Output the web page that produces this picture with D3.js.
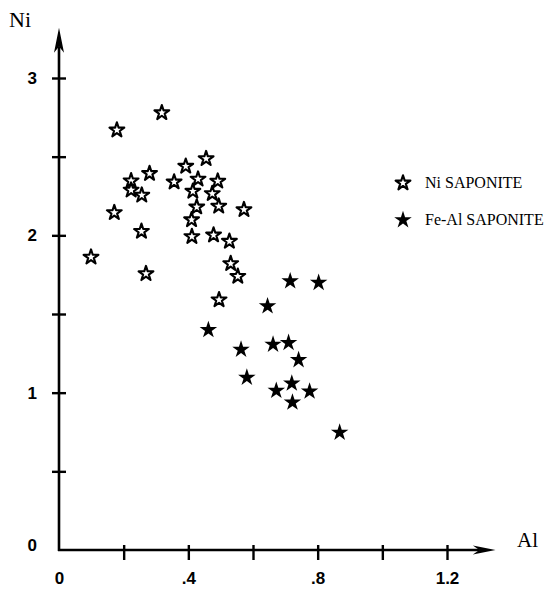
<!DOCTYPE html>
<html lang="en">

<head>
  <meta charset="UTF-8">
  <title>Ni vs Al saponite</title>
  <script src="https://d3js.org/d3.v7.min.js"></script>
  <style>
    html,
    body {
      padding: 0;
      margin: 0;
      background: #fff;
    }

    .tick text,
    .lbl {
      font-family: "Liberation Sans", Arial, sans-serif;
      font-weight: bold;
      font-size: 17px;
      fill: #000;
    }

    .title {
      font-family: "Liberation Serif", "Times New Roman", serif;
      fill: #000;
    }
  </style>
</head>

<body>
  <script>
    // Ni saponite (open stars)
    const niAl = [0.318, 0.179, 0.455, 0.392, 0.280, 0.223, 0.356, 0.430, 0.491, 0.223, 0.256, 0.414, 0.474, 0.426,
      0.494, 0.572, 0.171, 0.410, 0.255, 0.411, 0.478, 0.527, 0.099, 0.531, 0.553, 0.269, 0.495];
    const niNi = [2.779, 2.669, 2.487, 2.439, 2.393, 2.346, 2.339, 2.357, 2.344, 2.287, 2.255, 2.280, 2.265, 2.180,
      2.185, 2.163, 2.144, 2.099, 2.025, 1.992, 2.002, 1.962, 1.861, 1.820, 1.739, 1.756, 1.590];

    // Fe-Al saponite (filled stars)
    const feAl = [0.715, 0.803, 0.645, 0.462, 0.563, 0.662, 0.710, 0.741, 0.581, 0.672, 0.720, 0.775, 0.722, 0.868];
    const feNi = [1.709, 1.699, 1.550, 1.399, 1.274, 1.306, 1.317, 1.208, 1.096, 1.013, 1.059, 1.008, 0.938, 0.747];

    const xTicks = [0.2, 0.4, 0.6, 0.8, 1.0, 1.2];
    const xLabels = [0, 0.4, 0.8, 1.2];
    const yTicks = [0.5, 1, 1.5, 2, 2.5, 3];
    const yLabels = [1, 2, 3];
    const seriesNames = ["Ni SAPONITE", "Fe-Al SAPONITE"];

    const width = 552;
    const height = 593;

    const x = d3.scaleLinear().domain([0, 1.2]).range([59, 447]);
    const y = d3.scaleLinear().domain([0, 3]).range([550, 78]);

    const fmt = d => d === 0 ? "0" : (d < 1 ? String(d).replace(/^0/, "") : String(d));

    const svg = d3.select("body").append("svg")
      .attr("width", width)
      .attr("height", height);

    // axis lines with arrows
    const y0 = y(0), x0 = x(0);
    svg.append("line")
      .attr("x1", x0 - 1).attr("x2", x(1.3))
      .attr("y1", y0).attr("y2", y0)
      .attr("stroke", "#000").attr("stroke-width", 2.6);
    svg.append("path")
      .attr("d", `M${x(1.35)},${y0} L${x(1.28)},${y0 - 4.5} L${x(1.3)},${y0} L${x(1.28)},${y0 + 4.5} Z`)
      .attr("fill", "#000");

    svg.append("line")
      .attr("x1", x0).attr("x2", x0)
      .attr("y1", y0 + 1).attr("y2", y(3.2))
      .attr("stroke", "#000").attr("stroke-width", 2.6);
    svg.append("path")
      .attr("d", `M${x0},${y(3.32)} L${x0 - 5},${y(3.16)} L${x0},${y(3.2)} L${x0 + 5},${y(3.16)} Z`)
      .attr("fill", "#000");

    // tick marks (crossing the axes)
    const gxt = svg.append("g")
      .attr("transform", `translate(0,${y0})`)
      .call(d3.axisBottom(x).tickValues(xTicks).tickSizeOuter(0).tickSizeInner(10).tickFormat(""));
    gxt.select(".domain").remove();
    gxt.selectAll(".tick line").attr("y1", -5).attr("stroke", "#000").attr("stroke-width", 2.4);

    const gyt = svg.append("g")
      .attr("transform", `translate(${x0},0)`)
      .call(d3.axisLeft(y).tickValues(yTicks).tickSizeOuter(0).tickSizeInner(7).tickFormat(""));
    gyt.select(".domain").remove();
    gyt.selectAll(".tick line").attr("x2", -7).attr("x1", 7).attr("stroke", "#000").attr("stroke-width", 2.4);

    // tick labels
    const gxl = svg.append("g")
      .attr("transform", `translate(0,${y0})`)
      .call(d3.axisBottom(x).tickValues(xLabels).tickSize(0).tickPadding(34).tickFormat(fmt));
    gxl.select(".domain").remove();
    gxl.selectAll(".tick text").attr("dy", "0");

    const gyl = svg.append("g")
      .attr("transform", `translate(${x0},0)`)
      .call(d3.axisLeft(y).tickValues(yLabels).tickSize(0).tickPadding(22).tickFormat(fmt));
    gyl.select(".domain").remove();

    svg.append("text")
      .attr("class", "lbl")
      .attr("x", x0 - 22).attr("y", y0 - 5)
      .attr("text-anchor", "end")
      .attr("dominant-baseline", "central")
      .text(fmt(0));

    // axis titles
    svg.append("text").attr("class", "title")
      .attr("x", 9).attr("y", 27)
      .style("font-size", "22px")
      .text("Ni");
    svg.append("text").attr("class", "title")
      .attr("x", 517).attr("y", 547)
      .style("font-size", "21px")
      .text("Al");

    // points
    const starFilled = d3.symbol(d3.symbolStar, 95);
    const starOpen = d3.symbol(d3.symbolStar, 68);

    svg.append("g").selectAll("path")
      .data(d3.range(niAl.length))
      .join("path")
      .attr("transform", i => `translate(${x(niAl[i])},${y(niNi[i])})`)
      .attr("d", starOpen)
      .attr("fill", "#fff")
      .attr("stroke", "#000")
      .attr("stroke-width", 2.1)
      .attr("stroke-linejoin", "round");

    svg.append("g").selectAll("path")
      .data(d3.range(feAl.length))
      .join("path")
      .attr("transform", i => `translate(${x(feAl[i])},${y(feNi[i])})`)
      .attr("d", starFilled)
      .attr("fill", "#000");

    // legend
    const legend = svg.append("g").attr("transform", "translate(403,183)");
    seriesNames.forEach((name, i) => {
      const row = legend.append("g").attr("transform", `translate(0,${i * 37})`);
      row.append("path")
        .attr("d", i === 0 ? starOpen : starFilled)
        .attr("fill", i === 0 ? "#fff" : "#000")
        .attr("stroke", i === 0 ? "#000" : "none")
        .attr("stroke-width", 2.1)
        .attr("stroke-linejoin", "round");
      row.append("text").attr("class", "title")
        .attr("x", 22).attr("y", 5)
        .style("font-size", "16px")
        .text(name);
    });
  </script>
</body>

</html>
